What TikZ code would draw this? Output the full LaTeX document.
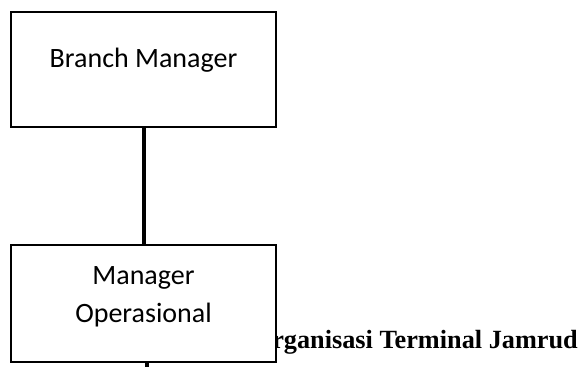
\documentclass[tikz,border=0pt]{standalone}
\usepackage{fontspec}
\setmainfont{Carlito}
\newfontfamily\titlefont{Liberation Serif}
\usepackage{tikz}

\begin{document}
\begin{tikzpicture}[x=0.75pt,y=0.75pt,yscale=-1,xscale=1,
	box/.style={draw, line width=1.5pt, fill=white, inner sep=0pt, minimum width=198.75pt},
	link/.style={line width=3pt},
	boxtext/.style={inner sep=0pt, font=\fontsize{21}{28.5}\selectfont, align=center}]
	\useasboundingbox (0,0) rectangle (582,367);
	
	% Title Text (partly under the box)
	\node (title) at (272,348) [anchor=base west][inner sep=0pt] {\titlefont\bfseries\fontsize{19.7}{24}\selectfont rganisasi Terminal Jamrud};
	
	%Shape: Rectangle
	\node (bm) at (143.5,69.5) [box, minimum height=86.25pt] {};
	%Shape: Rectangle
	\node (mo) at (143.5,303.5) [box, minimum height=87.75pt] {};
	
	% Text Node
	\node (bmtext) at (143.5,68) [boxtext, anchor=base] {Branch Manager};
	% Text Node
	\node (motext) at (143.5,266) [boxtext, anchor=north] {Manager\\Operasional};
	
	%Straight Lines
	\draw [link] (bm) -- (mo);
	\coordinate (down) at (147,367);
	\draw [link] (mo.south -| down) -- (down);
	
\end{tikzpicture}
\end{document}
